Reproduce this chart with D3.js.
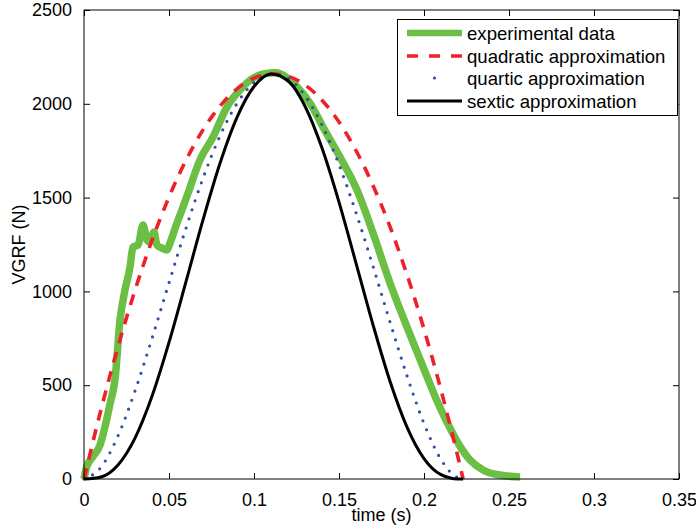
<!DOCTYPE html>
<html>
<head>
<meta charset="utf-8">
<script src="https://cdn.jsdelivr.net/npm/d3@7"></script>
<style>
  html, body { margin: 0; padding: 0; background: #fff; }
  svg { display: block; font-family: "Liberation Sans", Arial, Helvetica, sans-serif; }
</style>
</head>
<body>
<svg id="chart" width="696" height="531"></svg>
<script>
// ---- data ----
const xTicks = [0, 0.05, 0.1, 0.15, 0.2, 0.25, 0.3, 0.35];
const xTickLabels = ["0", "0.05", "0.1", "0.15", "0.2", "0.25", "0.3", "0.35"];
const yTicks = [0, 500, 1000, 1500, 2000, 2500];
const yTickLabels = ["0", "500", "1000", "1500", "2000", "2500"];

const expTime = [0, 0.0016, 0.0053, 0.0094, 0.0124, 0.0153, 0.0182, 0.0212, 0.0241, 0.0271, 0.0288,
  0.0318, 0.0347, 0.0371, 0.0388, 0.0412, 0.0429, 0.0459, 0.0488, 0.0506, 0.0547, 0.0576, 0.0612,
  0.0682, 0.0759, 0.0841, 0.0918, 0.0994, 0.1094, 0.1124, 0.1253, 0.1329, 0.1406, 0.1506, 0.1606,
  0.17, 0.18, 0.19, 0.2018, 0.2082, 0.2135, 0.22, 0.2271, 0.2347, 0.2447, 0.2565];
const expForce = [0, 66, 120, 180, 280, 400, 528, 848, 1007, 1130, 1237,
  1247, 1354, 1274, 1263, 1317, 1247, 1231, 1221, 1258, 1365, 1434, 1524,
  1700, 1823, 1983, 2074, 2137, 2164, 2165, 2090, 2004, 1876, 1716, 1540,
  1311, 1045, 810, 545, 405, 304, 192, 101, 48, 21, 11];

const approxTime = [0, 0.01, 0.02, 0.03, 0.04, 0.05, 0.06, 0.07, 0.08, 0.09, 0.10, 0.11,
  0.12, 0.13, 0.14, 0.15, 0.16, 0.17, 0.18, 0.19, 0.20, 0.21, 0.22, 0.223];
const quadratic = [0, 370, 705, 1006, 1272, 1503, 1699, 1861, 1988, 2080, 2137, 2160,
  2147, 2101, 2019, 1903, 1751, 1565, 1345, 1089, 799, 474, 115, 0];
const quartic = [0, 63, 230, 469, 749, 1046, 1337, 1603, 1829, 2002, 2114, 2159,
  2135, 2043, 1887, 1676, 1420, 1134, 837, 550, 296, 104, 6, 0];
const sextic = [0, 11, 75, 218, 441, 728, 1052, 1381, 1683, 1928, 2092, 2159,
  2123, 1987, 1764, 1476, 1151, 822, 521, 277, 109, 23, 0, 0];

const seriesNames = ["experimental data", "quadratic approximation", "quartic approximation", "sextic approximation"];

// ---- layout ----
const svg = d3.select("#chart");
const pL = 84, pR = 679, pT = 10, pB = 479;
const x = d3.scaleLinear().domain([0, 0.35]).range([pL, pR]);
const y = d3.scaleLinear().domain([0, 2500]).range([pB, pT]);
const fontSize = 18;
const legendFont = 18.6;
const tickLen = 6;

// axes with inward ticks
const xAxisB = d3.axisBottom(x).tickValues(xTicks).tickFormat((d, i) => xTickLabels[i]).tickSizeInner(-tickLen).tickSizeOuter(0).tickPadding(tickLen + 8);
const xAxisT = d3.axisTop(x).tickValues(xTicks).tickFormat("").tickSizeInner(-tickLen).tickSizeOuter(0);
const yAxisL = d3.axisLeft(y).tickValues(yTicks).tickFormat((d, i) => yTickLabels[i]).tickSizeInner(-tickLen).tickSizeOuter(0).tickPadding(tickLen + 6);
const yAxisR = d3.axisRight(y).tickValues(yTicks).tickFormat("").tickSizeInner(-tickLen).tickSizeOuter(0);

function styleAxis(g) {
  g.selectAll("path.domain").remove();
  g.selectAll(".tick line").attr("stroke", "#000").attr("stroke-width", 1);
  g.selectAll(".tick text").attr("fill", "#000").style("font-size", fontSize + "px").style("font-family", "Liberation Sans, Arial, sans-serif");
}
svg.append("g").attr("transform", `translate(0,${pB})`).call(xAxisB).call(styleAxis);
svg.append("g").attr("transform", `translate(0,${pT})`).call(xAxisT).call(styleAxis);
svg.append("g").attr("transform", `translate(${pL},0)`).call(yAxisL).call(styleAxis);
svg.append("g").attr("transform", `translate(${pR},0)`).call(yAxisR).call(styleAxis);

// series
const expData = expTime.map((t, i) => [t, expForce[i]]);
const quadData = approxTime.map((t, i) => [t, quadratic[i]]);
const quarData = approxTime.map((t, i) => [t, quartic[i]]);
const sextData = approxTime.map((t, i) => [t, sextic[i]]);

const line = d3.line().x(d => x(d[0])).y(d => y(d[1])).curve(d3.curveMonotoneX);

const green = "#6cbf45", red = "#ee2028", blue = "#2f4fa8";

svg.append("path").datum(expData).attr("d", line).attr("fill", "none")
  .attr("stroke", green).attr("stroke-width", 7.5).attr("stroke-linejoin", "round").attr("stroke-linecap", "butt");
svg.append("path").datum(quadData).attr("d", line).attr("fill", "none")
  .attr("stroke", red).attr("stroke-width", 3.6).attr("stroke-dasharray", "11 9");
svg.append("path").datum(quarData).attr("d", line).attr("fill", "none")
  .attr("stroke", blue).attr("stroke-width", 3.2).attr("stroke-linecap", "round").attr("stroke-dasharray", "0 9.5");
svg.append("path").datum(sextData).attr("d", line).attr("fill", "none")
  .attr("stroke", "#000").attr("stroke-width", 3);

// plot border
svg.append("rect").attr("x", pL).attr("y", pT).attr("width", pR - pL).attr("height", pB - pT)
  .attr("fill", "none").attr("stroke", "#000").attr("stroke-width", 1);

// axis labels
svg.append("text").attr("x", (pL + pR) / 2).attr("y", 521).attr("text-anchor", "middle")
  .style("font-size", fontSize + "px").text("time (s)");
svg.append("text").attr("transform", `translate(25,${(pT + pB) / 2}) rotate(-90)`).attr("text-anchor", "middle")
  .style("font-size", fontSize + "px").text("VGRF (N)");

// legend
const lg = svg.append("g");
lg.append("rect").attr("x", 397.5).attr("y", 19.5).attr("width", 280).attr("height", 96)
  .attr("fill", "#fff").attr("stroke", "#000").attr("stroke-width", 1);
const rowY = [33, 56, 78, 101];
const lx0 = 407, lx1 = 462;
const legendLine = d3.line().x(d => d[0]).y(d => d[1]);
lg.append("path").datum([[lx0, rowY[0]], [lx1, rowY[0]]]).attr("d", legendLine)
  .attr("stroke", green).attr("stroke-width", 6.5).attr("fill", "none");
lg.append("path").datum([[lx0, rowY[1]], [lx1, rowY[1]]]).attr("d", legendLine)
  .attr("stroke", red).attr("stroke-width", 3.6).attr("stroke-dasharray", "11 11").attr("fill", "none");
lg.append("circle").attr("cx", (lx0 + lx1) / 2).attr("cy", rowY[2]).attr("r", 1.6).attr("fill", blue);
lg.append("path").datum([[lx0, rowY[3]], [lx1, rowY[3]]]).attr("d", legendLine)
  .attr("stroke", "#000").attr("stroke-width", 3).attr("fill", "none");
seriesNames.forEach((name, i) => {
  lg.append("text").attr("x", 467).attr("y", rowY[i]).attr("dy", "0.35em")
    .style("font-size", legendFont + "px").text(name);
});
</script>
</body>
</html>
